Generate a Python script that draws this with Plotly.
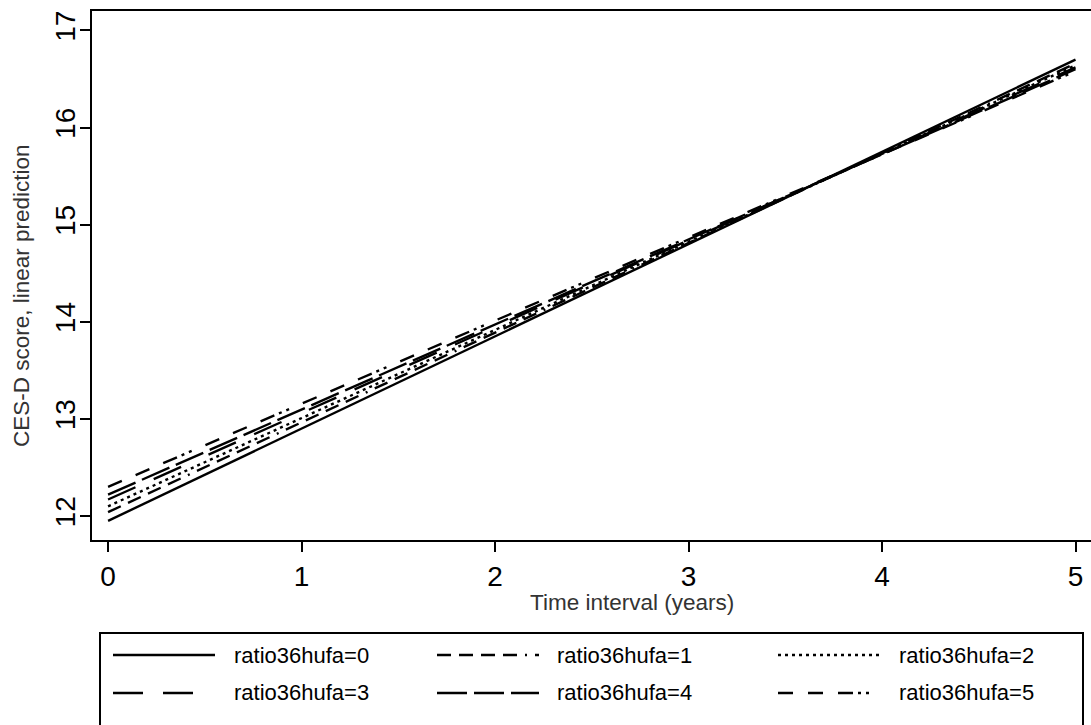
import plotly.graph_objects as go

# Linear predictions of the CES-D score over time, one line per ratio36hufa level
time_years = [0, 5]
group_labels = ["ratio36hufa=0", "ratio36hufa=1", "ratio36hufa=2",
                "ratio36hufa=3", "ratio36hufa=4", "ratio36hufa=5"]
cesd_at_start = [11.95, 12.04, 12.10, 12.17, 12.22, 12.30]
cesd_at_end = [16.70, 16.66, 16.64, 16.62, 16.60, 16.58]
x_ticks = [0, 1, 2, 3, 4, 5]
y_ticks = [12, 13, 14, 15, 16, 17]

dash_styles = [
    "solid",
    "14px,8px,14px,8px,14px,8px,14px,8px,2px,8px",
    "3px,4px",
    "30px,20px,30px,30px",
    "30px,7px",
    "15px,15px,15px,15px,15px,5px,3px,5px,3px,15px",
]

W, H = 1091, 725
L, R, T, B = 92, 0, 11, 185
PW, PH = W - L - R, H - T - B


def fx(px):
    return (px - L) / PW


def fy(py):
    return (H - B - py) / PH


fig = go.Figure()
for name, y0, y1, dash in zip(group_labels, cesd_at_start, cesd_at_end, dash_styles):
    fig.add_trace(go.Scatter(
        x=time_years, y=[y0, y1], mode="lines", name=name,
        line=dict(color="black", width=2.4, dash=dash),
        showlegend=False,
    ))

tick_font = dict(family="Liberation Sans, Arial, sans-serif", size=28, color="black")
title_font = dict(family="Liberation Sans, Arial, sans-serif", size=22.5, color="#333333")

fig.update_xaxes(
    range=[-0.083, 5.080], tickvals=x_ticks, ticks="outside", ticklen=10,
    tickwidth=2, tickcolor="black", showline=True, linewidth=2, linecolor="black",
    mirror=True, showgrid=False, zeroline=False, tickfont=tick_font,
    ticklabelstandoff=0,
)
fig.update_yaxes(
    range=[11.753, 17.2], tickvals=y_ticks, ticks="outside", ticklen=10,
    tickwidth=2, tickcolor="black", showline=True, linewidth=2, linecolor="black",
    showgrid=False, zeroline=False, tickfont=tick_font, tickangle=-90,
    ticklabelstandoff=-6,
)

annotations = [
    dict(text="Time interval (years)", xref="paper", yref="paper",
         x=fx(632), y=fy(602), xanchor="center", yanchor="middle",
         showarrow=False, font=title_font),
    dict(text="CES-D score, linear prediction", xref="paper", yref="paper",
         x=fx(21), y=fy(296), xanchor="center", yanchor="middle",
         textangle=-90, showarrow=False, font=title_font),
]

# Legend box with long line samples, three columns by two rows
shapes = [dict(type="rect", xref="paper", yref="paper",
               x0=fx(100), x1=fx(1083), y0=fy(740), y1=fy(633),
               line=dict(color="black", width=2), fillcolor="white", layer="below")]
sample_x = [(113, 215), (437, 539), (778, 880)]
text_x = [232, 555, 897]
row_y = [655, 693]
legend_font = dict(family="Liberation Sans, Arial, sans-serif", size=22, color="black")
for i, (name, dash) in enumerate(zip(group_labels, dash_styles)):
    row, col = divmod(i, 3)
    x0, x1 = sample_x[col]
    y = row_y[row]
    shapes.append(dict(type="line", xref="paper", yref="paper",
                       x0=fx(x0), x1=fx(x1), y0=fy(y), y1=fy(y),
                       line=dict(color="black", width=2.4, dash=dash)))
    annotations.append(dict(text=name, xref="paper", yref="paper",
                            x=fx(text_x[col]), y=fy(y), xanchor="left",
                            yanchor="middle", showarrow=False, font=legend_font))

fig.update_layout(
    width=W, height=H, margin=dict(l=L, r=R, t=T, b=B),
    paper_bgcolor="white", plot_bgcolor="white",
    shapes=shapes, annotations=annotations, showlegend=False,
)

fig.write_html("out.html")
